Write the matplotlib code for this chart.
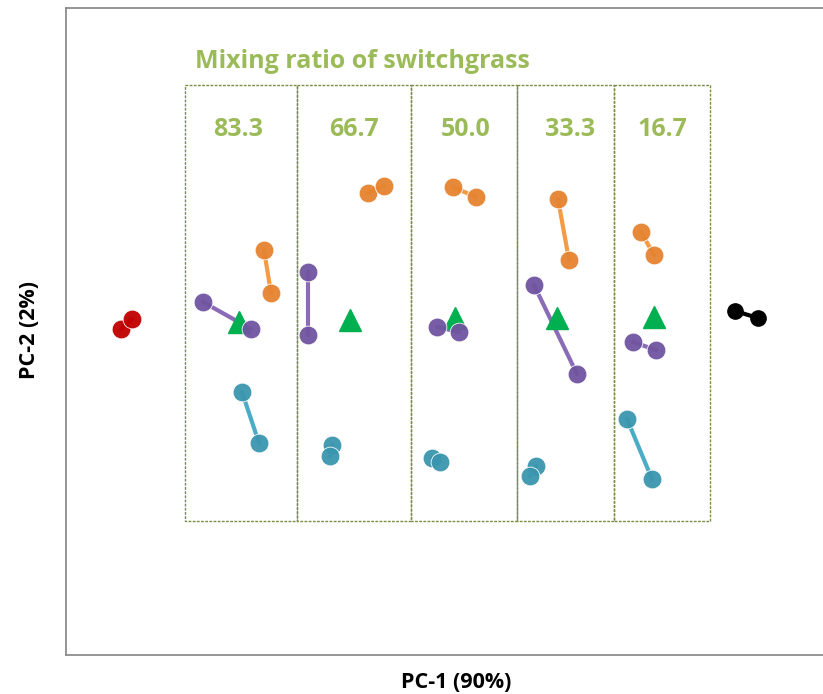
import numpy as np
import matplotlib.pyplot as plt
from matplotlib.patches import Rectangle

# PCA scores (arbitrary units, y grows downward)
ratios = ["83.3", "66.7", "50.0", "33.3", "16.7"]
panel_edges = [185, 297, 411, 517, 614, 710]
label_x = [238, 354, 466, 570, 662]

orange_x = [[264, 271], [368, 384], [453, 476], [558, 569], [641, 654]]
orange_y = [[250, 293], [193, 186], [187, 197], [199, 260], [232, 255]]
purple_x = [[203, 251], [308, 308], [437, 459], [534, 577], [633, 656]]
purple_y = [[302, 329], [272, 335], [327, 332], [285, 374], [342, 350]]
teal_x = [[242, 259], [332, 330], [432, 440], [536, 530], [627, 652]]
teal_y = [[392, 443], [445, 456], [458, 462], [466, 476], [419, 479]]
tri_x = [239, 350, 455, 557, 654]
tri_y = [322, 320, 318, 318, 317]

red_x, red_y = [121, 132], [329, 319]
black_x, black_y = [735, 758], [311, 318]

green = '#9BBB59'
W, H = 823, 694

fig = plt.figure(figsize=(W / 100, H / 100), dpi=100)
ax = fig.add_axes([66 / W, 1 - 655 / H, (835 - 66) / W, (655 - 8) / H])
ax.set_xlim(66, 835)
ax.set_ylim(655, 8)
ax.set_xticks([])
ax.set_yticks([])
for s in ['left', 'bottom', 'top']:
    ax.spines[s].set_color('#8c8c8c')
    ax.spines[s].set_linewidth(1.3)
ax.spines['right'].set_visible(False)

# panel boxes
for i in range(len(ratios)):
    ax.add_patch(Rectangle((panel_edges[i], 85), panel_edges[i + 1] - panel_edges[i], 521 - 85,
                           fill=False, ec='#7a8c45', lw=1.0, ls=(0, (2, 1))))
    ax.text(label_x[i], 130, ratios[i], color=green, fontsize=18, fontweight='bold',
            ha='center', va='center', family='Open Sans')

ax.text(195, 62, "Mixing ratio of switchgrass", color=green, fontsize=18, fontweight='bold',
        ha='left', va='center', family='Open Sans')


def pair(xs, ys, mc, lc):
    ax.plot(xs, ys, '-', color=lc, lw=3, zorder=2, solid_capstyle='round')
    ax.plot(xs, ys, 'o', color=mc, ms=13.5, mec='white', mew=0.6, zorder=3, alpha=0.95)


for i in range(len(ratios)):
    pair(orange_x[i], orange_y[i], '#E6832F', '#F59A45')
    pair(purple_x[i], purple_y[i], '#7054A0', '#8A6BB5')
    pair(teal_x[i], teal_y[i], '#3A96AE', '#4BACC6')

ax.plot(tri_x, tri_y, '^', color='#00B050', ms=16, ls='none', zorder=2.5)
pair(red_x, red_y, '#C00000', '#C00000')
ax.plot(black_x, black_y, '-', color='black', lw=3, zorder=2)
ax.plot(black_x, black_y, 'o', color='black', ms=11, zorder=3)

fig.text(456 / W, 1 - 683 / H, "PC-1 (90%)", fontsize=15.5, fontweight='bold',
         ha='center', va='center', family='Open Sans')
fig.text(30 / W, 1 - 330 / H, "PC-2 (2%)", fontsize=15.5, fontweight='bold',
         ha='center', va='center', rotation=90, family='Open Sans')

fig.savefig('out.png', dpi=100)
